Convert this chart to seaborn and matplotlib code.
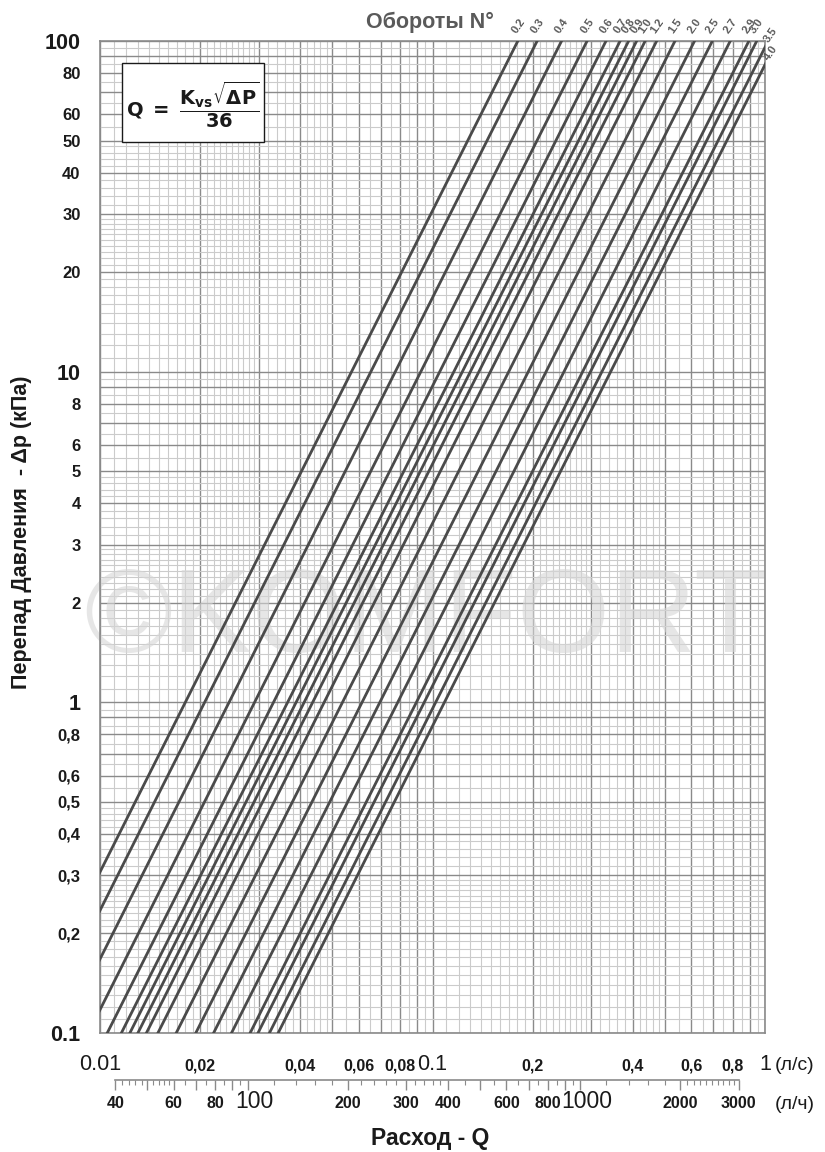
import numpy as np
import pandas as pd
import matplotlib
matplotlib.use("Agg")
import matplotlib.pyplot as plt
from matplotlib.patches import Rectangle
from matplotlib.transforms import ScaledTranslation
from matplotlib.ticker import FixedLocator, FixedFormatter, NullFormatter
import seaborn as sns

# valve turns and the Kvs for each
turns = ["0.2", "0.3", "0.4", "0.5", "0.6", "0.7", "0.8", "0.9", "1.0",
         "1.2", "1.5", "2.0", "2.5", "2.7", "2.9", "3.0", "3.5", "4.0"]
kvs = [0.65, 0.743, 0.88, 1.05, 1.197, 1.32, 1.40, 1.48, 1.57,
       1.70, 1.93, 2.21, 2.50, 2.83, 3.22, 3.40, 3.68, 3.91]

# axis tick labels
x_ticks_ls = [0.01, 0.02, 0.04, 0.06, 0.08, 0.1, 0.2, 0.4, 0.6, 0.8, 1]
x_labels_ls = ["0.01", "0,02", "0,04", "0,06", "0,08", "0.1", "0,2", "0,4", "0,6", "0,8", "1"]
x_ticks_lh = [40, 60, 80, 100, 200, 300, 400, 600, 800, 1000, 2000, 3000]
x_labels_lh = ["40", "60", "80", "100", "200", "300", "400", "600", "800", "1000", "2000", "3000"]
y_ticks = [0.1, 0.2, 0.3, 0.4, 0.5, 0.6, 0.8, 1, 2, 3, 4, 5, 6, 8, 10, 20, 30, 40, 50, 60, 80, 100]
y_labels = ["0.1", "0,2", "0,3", "0,4", "0,5", "0,6", "0,8", "1", "2", "3", "4", "5", "6", "8",
            "10", "20", "30", "40", "50", "60", "80", "100"]
big_labels = {"0.01", "0.1", "1", "10", "100", "1000"}

# l/h scale tick marks
lh_major = [40, 50, 60, 70, 80, 90, 100, 200, 300, 400, 500, 600, 700, 800, 900, 1000, 2000, 3000]
lh_minor = ([42, 44, 46, 48, 52, 54, 56, 58, 65, 75, 85, 95]
            + [120, 140, 160, 180, 220, 240, 260, 280, 320, 340, 360, 380]
            + [450, 550, 650, 750, 850, 950]
            + [1200, 1400, 1600, 1800]
            + [2100, 2200, 2300, 2400, 2500, 2600, 2700, 2800, 2900])

sns.set_style("white")
plt.rcParams["font.family"] = ["Liberation Sans", "DejaVu Sans"]
INK = "#1a1a1a"
GRID_MAJ = "#8a8a8a"
GRID_MIN = "#cbcbcb"


def log_paper(decades):
    major, minor = [], []
    for e in decades:
        base = 10.0 ** e
        major += [m * base for m in range(1, 10)]
        for lo, hi, st in ((1, 3, 0.1), (3, 5, 0.2), (5, 10, 0.5)):
            for v in np.arange(lo, hi, st)[1:]:
                if abs(v - round(v)) > 1e-6:
                    minor.append(v * base)
    major.append(10.0 ** (decades[-1] + 1))
    return major, minor


def label_for(v, ticks, labels):
    for u, s in zip(ticks, labels):
        if abs(v - u) < 1e-6 * u:
            return s
    return ""


def style_labels(labels, big_size, small_size, big_bold=False):
    for lab in labels:
        lab.set_color(INK)
        if lab.get_text() in big_labels:
            lab.set_fontsize(big_size)
            if big_bold:
                lab.set_fontweight("bold")
        else:
            lab.set_fontsize(small_size)
            lab.set_fontweight("bold")


fig = plt.figure(figsize=(8.25, 11.52), dpi=100)
W, H = 825, 1152
L, R, T, B = 100, 765, 41, 1033
ax = fig.add_axes([L / W, 1 - B / H, (R - L) / W, (B - T) / H])
ax.set_xscale("log")
ax.set_yscale("log")

# lines: Q[l/s] = Kvs * sqrt(dp[kPa]) / 36
dp_ends = [0.05, 200.0]
rows = []
for t, kv in zip(turns, kvs):
    for dp in dp_ends:
        rows.append({"turn": t, "dp": dp, "Q": kv * np.sqrt(dp) / 36})
df = pd.DataFrame(rows)
sns.lineplot(data=df, x="Q", y="dp", units="turn", estimator=None,
             color="#4a4a4a", linewidth=2.0, ax=ax, zorder=3)

ax.set_xlim(0.01, 1)
ax.set_ylim(0.1, 100)

# graph paper grid
xmaj, xmin = log_paper([-2, -1])
ymaj, ymin = log_paper([-1, 0, 1])
ax.xaxis.set_major_locator(FixedLocator(xmaj))
ax.xaxis.set_minor_locator(FixedLocator(xmin))
ax.yaxis.set_major_locator(FixedLocator(ymaj))
ax.yaxis.set_minor_locator(FixedLocator(ymin))
ax.xaxis.set_major_formatter(FixedFormatter([label_for(v, x_ticks_ls, x_labels_ls) for v in xmaj]))
ax.yaxis.set_major_formatter(FixedFormatter([label_for(v, y_ticks, y_labels) for v in ymaj]))
ax.xaxis.set_minor_formatter(NullFormatter())
ax.yaxis.set_minor_formatter(NullFormatter())
ax.grid(which="major", color=GRID_MAJ, linewidth=1.0)
ax.grid(which="minor", color=GRID_MIN, linewidth=0.8)
ax.set_axisbelow(True)
ax.tick_params(which="both", length=0)
ax.tick_params(axis="x", pad=27)
ax.tick_params(axis="y", pad=14)
for sp in ax.spines.values():
    sp.set_color(GRID_MAJ)
    sp.set_linewidth(1.2)
ax.set_xlabel("")
ax.set_ylabel("")

fig.canvas.draw()
for lab in ax.get_xticklabels():
    lab.set_verticalalignment("baseline")
style_labels(ax.get_xticklabels(), 15.5, 11.5)
style_labels(ax.get_yticklabels(), 15.5, 12, big_bold=True)

# watermark
ax.text(0.49, 0.415, "©KOMFORT", transform=ax.transAxes, ha="center", va="center",
        fontsize=86, color="#d6d6d6", alpha=0.6, zorder=1)

# formula box
ax.add_patch(Rectangle((0.033, 0.898), 0.2135, 0.08, transform=ax.transAxes,
                       facecolor="white", edgecolor=INK, linewidth=1.0, zorder=4))
ax.text(0.14, 0.936, r"$\mathbf{Q\ =\ \dfrac{K_{vs}\sqrt{\Delta P}}{36}}$", transform=ax.transAxes,
        ha="center", va="center", fontsize=14, color=INK, zorder=5)

# turn labels at the top of each line
for t, kv in zip(turns, kvs):
    q_top = kv * np.sqrt(100) / 36
    if q_top <= 1:
        xy, off = (q_top, 100), (0, 4)
    else:
        xy, off = (1, (36 / kv) ** 2), (4, 2)
    ax.annotate(t, xy, xytext=off, textcoords="offset points",
                rotation=55, rotation_mode="anchor", ha="left", va="bottom",
                fontsize=8, fontweight="bold", color="#5a5a5a", annotation_clip=False)

# second flow scale in l/h
lh_y = 1080
ax2 = fig.add_axes([L / W, 1 - lh_y / H, (R - L) / W, 0.0001])
ax2.set_xscale("log")
ax2.set_xlim(0.01 * 3600, 1 * 3600)
ax2.set_yticks([])
for s in ("top", "left", "right"):
    ax2.spines[s].set_visible(False)
ax2.spines["bottom"].set_bounds(40, 3000)
ax2.spines["bottom"].set_color(GRID_MAJ)
ax2.spines["bottom"].set_linewidth(1.2)
ax2.patch.set_alpha(0)
ax2.xaxis.set_major_locator(FixedLocator(lh_major))
ax2.xaxis.set_minor_locator(FixedLocator(lh_minor))
ax2.xaxis.set_major_formatter(FixedFormatter([label_for(v, x_ticks_lh, x_labels_lh) for v in lh_major]))
ax2.xaxis.set_minor_formatter(NullFormatter())
ax2.tick_params(axis="x", which="both", bottom=True, top=False, direction="out")
ax2.tick_params(axis="x", which="major", length=7, width=1.0, color=GRID_MAJ, pad=13)
ax2.tick_params(axis="x", which="minor", length=3.5, width=0.8, color=GRID_MAJ)
fig.canvas.draw()
shift = ScaledTranslation(0.07, 0, fig.dpi_scale_trans)
for lab in ax2.get_xticklabels():
    lab.set_verticalalignment("baseline")
    if lab.get_text() in big_labels:
        lab.set_transform(lab.get_transform() + shift)
style_labels(ax2.get_xticklabels(), 16.5, 11.5)

# unit captions and axis titles
fig.text(775 / W, 1 - 1070 / H, "(л/с)", fontsize=14, color=INK, ha="left", va="baseline")
fig.text(775 / W, 1 - 1109 / H, "(л/ч)", fontsize=14, color=INK, ha="left", va="baseline")
fig.text(430 / W, 1 - 1138 / H, "Расход - Q", fontsize=16.5, fontweight="bold",
         color=INK, ha="center", va="center")
fig.text(22 / W, 1 - 532 / H, "Перепад Давления  - Δр (кПа)", fontsize=15.5, fontweight="bold",
         color=INK, ha="center", va="center", rotation=90)
fig.text(430 / W, 1 - 22 / H, "Обороты N°", fontsize=15.5, fontweight="bold",
         color="#5a5a5a", ha="center", va="center")

fig.savefig("out.png", dpi=100, facecolor="white")
plt.close(fig)
